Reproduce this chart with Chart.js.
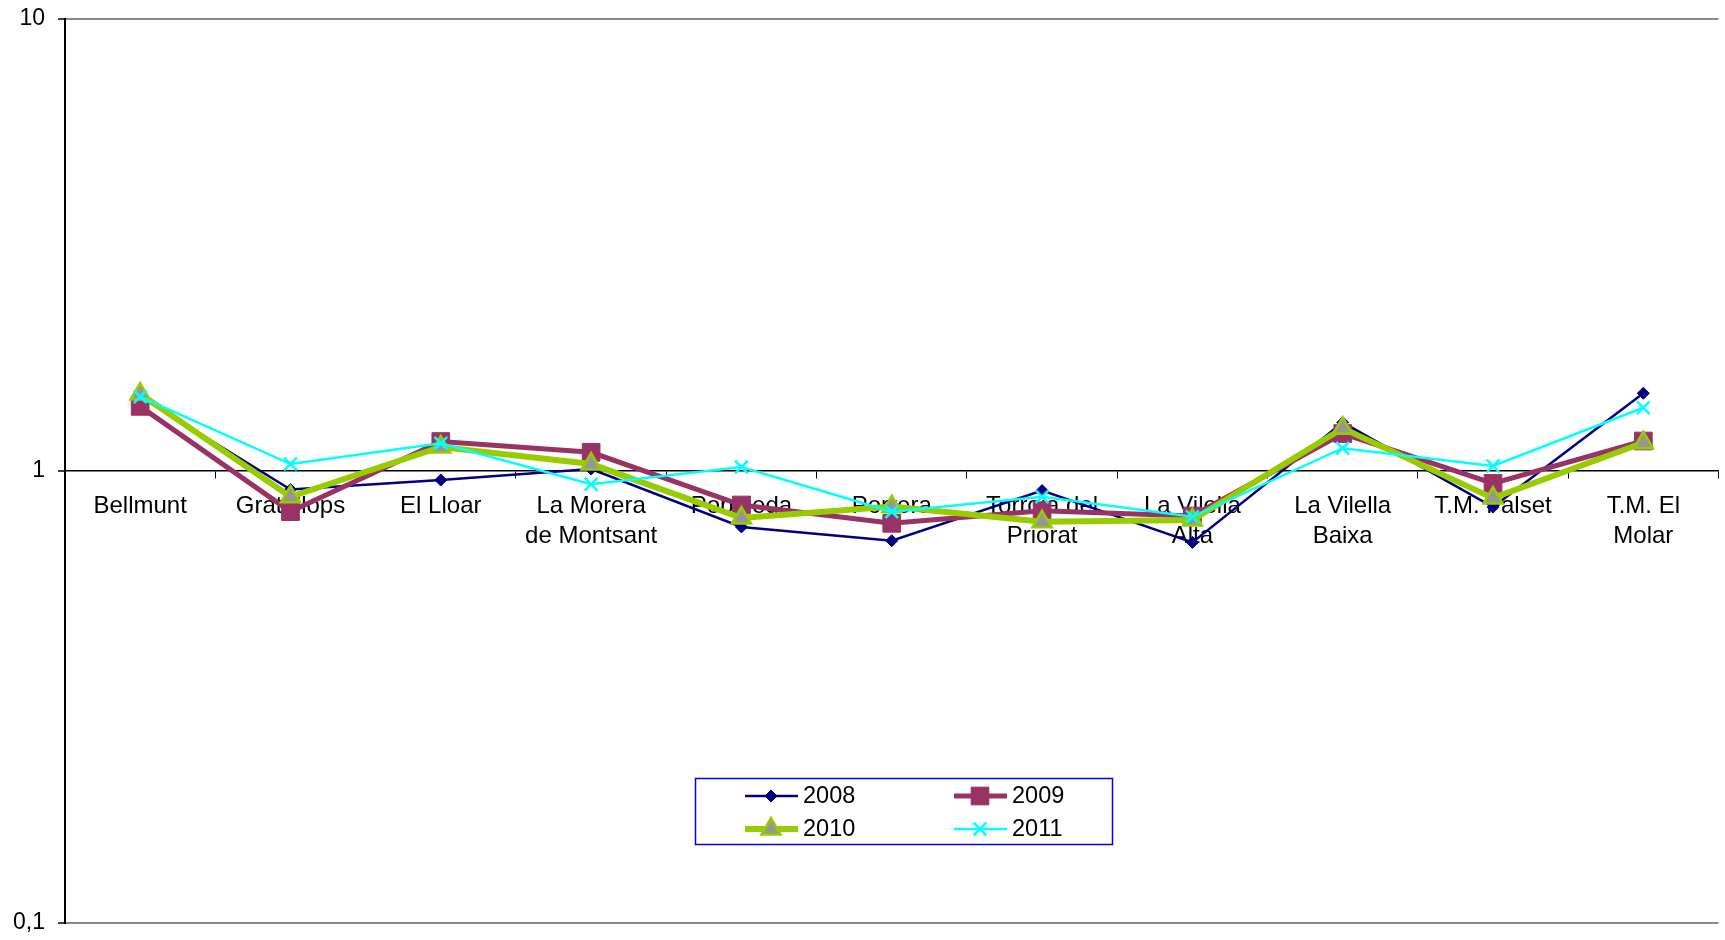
<!DOCTYPE html>
<html>
<head>
<meta charset="utf-8">
<script src="https://cdn.jsdelivr.net/npm/chart.js@4/dist/chart.umd.min.js"></script>
<style>
    html, body { margin: 0; padding: 0; overflow: hidden; background: #fff; }
    #wrap { position: absolute; left: 0; top: 0; width: 1732px; height: 940px; }
</style>
</head>
<body>
<div id="wrap"><canvas id="ratioChart" width="1732" height="940"></canvas></div>
<script>
const categories = [
    "Bellmunt", "Gratallops", "El Lloar", ["La Morera", "de Montsant"], "Poboleda", "Porrera",
    ["Torroja del", "Priorat"], ["La Vilella", "Alta"], ["La Vilella", "Baixa"], "T.M. Falset", ["T.M. El", "Molar"]
];
const seriesNames = ["2008", "2009", "2010", "2011"];
const values2008 = [1.46, 0.91, 0.955, 1.01, 0.752, 0.701, 0.905, 0.695, 1.28, 0.832, 1.486];
const values2009 = [1.39, 0.813, 1.162, 1.10, 0.841, 0.766, 0.817, 0.795, 1.21, 0.939, 1.165];
const values2010 = [1.48, 0.877, 1.13, 1.036, 0.787, 0.834, 0.772, 0.779, 1.243, 0.871, 1.155];
const values2011 = [1.46, 1.036, 1.152, 0.935, 1.02, 0.813, 0.877, 0.792, 1.123, 1.026, 1.38];
const yTickValues = [0.1, 1, 10];
const yTickLabels = ["0,1", "1", "10"];

(function(root){

    const FONT = "'Liberation Sans', Arial, sans-serif";

    // legend drawn inside the plot, like the original
    const legendBox = {
        id: "legendBox",
        afterDraw: function(chart) {
            let ctx = chart.ctx;
            ctx.save();
            ctx.strokeStyle = "#0000FF";
            ctx.lineWidth = 1.5;
            ctx.strokeRect(695.5, 778.5, 417, 66);
            chart.data.datasets.forEach(function(ds, i) {
                let x0 = (i % 2) ? 954 : 745;
                let y = (i < 2) ? 796 : 829;
                ctx.strokeStyle = ds.borderColor;
                ctx.lineWidth = ds.borderWidth;
                ctx.beginPath();
                ctx.moveTo(x0, y);
                ctx.lineTo(x0 + 53, y);
                ctx.stroke();
                ctx.fillStyle = ds.pointBackgroundColor;
                ctx.strokeStyle = ds.pointBorderColor;
                ctx.lineWidth = ds.pointBorderWidth;
                Chart.helpers.drawPoint(ctx, {
                    pointStyle: ds.pointStyle,
                    radius: ds.pointRadius,
                    rotation: 0,
                    borderWidth: ds.pointBorderWidth
                }, x0 + 26, y);
                ctx.fillStyle = "#000";
                ctx.font = "23.5px " + FONT;
                ctx.textAlign = "left";
                ctx.textBaseline = "middle";
                ctx.fillText(ds.label, x0 + 58, y + 1);
            });
            ctx.restore();
        }
    };

    const whiteBg = {
        id: "whiteBg",
        beforeDraw: function(chart) {
            let ctx = chart.ctx;
            ctx.save();
            ctx.fillStyle = "#FFFFFF";
            ctx.fillRect(0, 0, chart.width, chart.height);
            ctx.restore();
        }
    };

    let ctx = document.getElementById("ratioChart").getContext("2d");

    let data = {
        labels: categories,
        datasets: [{
            label: seriesNames[0],
            data: values2008,
            borderColor: "#000080",
            borderWidth: 2.5,
            pointStyle: "rectRot",
            pointRadius: 6,
            pointBackgroundColor: "#000080",
            pointBorderColor: "#000080",
            pointBorderWidth: 1,
            order: 4
        },
        {
            label: seriesNames[1],
            data: values2009,
            borderColor: "#993366",
            borderWidth: 5,
            pointStyle: "rect",
            pointRadius: 12.5,
            pointBackgroundColor: "#993366",
            pointBorderColor: "#993366",
            pointBorderWidth: 1,
            order: 3
        },
        {
            label: seriesNames[2],
            data: values2010,
            borderColor: "#99CC00",
            borderWidth: 6,
            pointStyle: "triangle",
            pointRadius: 11,
            pointBackgroundColor: "#969696",
            pointBorderColor: "#99CC00",
            pointBorderWidth: 2.5,
            order: 2
        },
        {
            label: seriesNames[3],
            data: values2011,
            borderColor: "#00FFFF",
            borderWidth: 2.5,
            pointStyle: "crossRot",
            pointRadius: 9,
            pointBackgroundColor: "#00FFFF",
            pointBorderColor: "#00FFFF",
            pointBorderWidth: 2.5,
            order: 1
        }]
    };

    let options = {
        responsive: false,
        animation: false,
        events: [],
        layout: {
            padding: { left: 0, right: 0, top: 19, bottom: 17 }
        },
        elements: {
            line: { tension: 0, fill: false }
        },
        plugins: {
            legend: { display: false },
            tooltip: { enabled: false }
        },
        scales: {
            x: {
                type: "category",
                position: { y: 1 },
                offset: true,
                grid: {
                    offset: true,
                    drawOnChartArea: false,
                    drawTicks: true,
                    tickLength: 7,
                    color: "#000",
                    lineWidth: 1
                },
                border: { display: true, color: "#000", width: 1.5 },
                ticks: {
                    autoSkip: false,
                    maxRotation: 0,
                    minRotation: 0,
                    padding: 13,
                    color: "#000",
                    font: { family: FONT, size: 24, lineHeight: 1.26 }
                }
            },
            y: {
                type: "logarithmic",
                position: "left",
                min: 0.1,
                max: 10,
                afterBuildTicks: function(scale) {
                    scale.ticks = yTickValues.map(v => ({ value: v }));
                },
                afterFit: function(scale) {
                    scale.width = 65;
                    scale.paddingTop = 0;
                    scale.paddingBottom = 0;
                },
                grid: {
                    drawTicks: true,
                    tickLength: 7,
                    tickColor: "#000",
                    tickWidth: 1.5,
                    lineWidth: 2,
                    color: function(c) {
                        return (c.tick && c.tick.value === 1) ? "rgba(0,0,0,0)" : "#8A8A8A";
                    }
                },
                border: { display: true, color: "#000", width: 2 },
                ticks: {
                    padding: 13,
                    color: "#000",
                    font: { family: FONT, size: 23 },
                    callback: function(value) {
                        let idx = yTickValues.indexOf(value);
                        return idx >= 0 ? yTickLabels[idx] : "";
                    }
                }
            }
        }
    };

    let config = ({
        type: "line",
        data: data,
        options: options,
        plugins: [whiteBg, legendBox]
    });

    root.ratioChart = new Chart(ctx, config);

})(window);
</script>
</body>
</html>
